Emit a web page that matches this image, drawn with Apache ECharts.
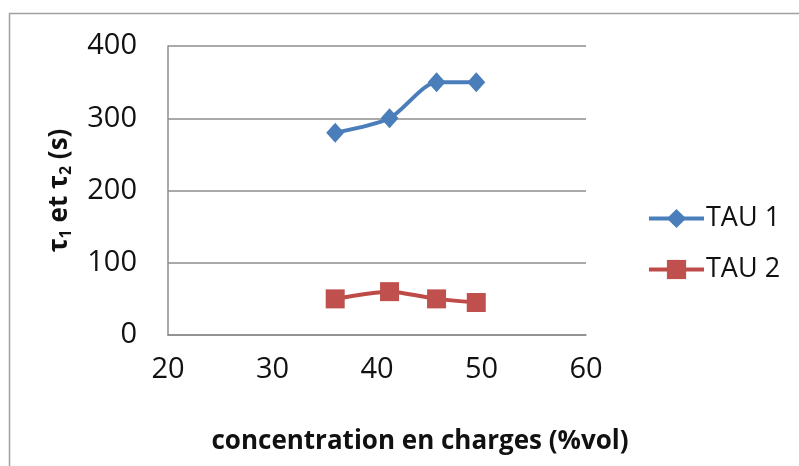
<!DOCTYPE html>
<html>
<head>
<meta charset="utf-8">
<script src="https://cdn.jsdelivr.net/npm/echarts@6/dist/echarts.min.js"></script>
<style>
  html, body { margin: 0; padding: 0; background: #fff; }
  #chart { width: 799px; height: 466px; }
</style>
</head>
<body>
<div id="chart"></div>
<script>
var concentration = [36, 41.2, 45.7, 49.5];
var tau1 = [280, 300, 350, 350];
var tau2 = [50, 60, 50, 45];

var fontName = 'Open Sans';
var chart = echarts.init(document.getElementById('chart'));

function pairs(xs, ys) {
  return xs.map(function (x, i) { return [x, ys[i]]; });
}

var option = {
  backgroundColor: '#fff',
  animation: false,
  textStyle: { fontFamily: fontName },
  graphic: [{
    type: 'rect',
    shape: { x: 9.5, y: 13.5, width: 820, height: 500 },
    style: { fill: 'none', stroke: '#a0a0a0', lineWidth: 1.5 }
  }],
  grid: { left: 168, right: 213, top: 46, bottom: 131 },
  legend: {
    orient: 'vertical',
    left: 642,
    top: 200,
    itemWidth: 55,
    itemHeight: 24,
    itemGap: 24,
    textStyle: { fontSize: 27, color: '#111', fontFamily: fontName, padding: [0, 0, 0, -3] },
    data: [
      { name: 'TAU 1', lineStyle: { width: 4 } },
      { name: 'TAU 2', lineStyle: { width: 4 } }
    ]
  },
  xAxis: {
    type: 'value',
    min: 20, max: 60, interval: 10,
    name: 'concentration en charges (%vol)',
    nameLocation: 'middle',
    nameGap: 94,
    nameTextStyle: { fontSize: 26, fontWeight: 'bold', color: '#111', padding: [0, 0, 0, 86] },
    axisLine: { show: true, lineStyle: { color: '#8c8c8c', width: 1.5 } },
    axisTick: { show: false },
    splitLine: { show: false },
    axisLabel: { fontSize: 29, color: '#111', margin: 20 }
  },
  yAxis: {
    type: 'value',
    min: 0, max: 400, interval: 100,
    name: '{a|τ}{s|1}{a| et τ}{s|2}{a| (s)}',
    nameLocation: 'middle',
    nameGap: 94,
    nameRotate: 90,
    nameTextStyle: {
      rich: {
        a: { fontSize: 26, fontWeight: 'bold', color: '#111', fontFamily: fontName },
        s: { fontSize: 16, fontWeight: 'bold', color: '#111', fontFamily: fontName, padding: [12, 0, 0, 0] }
      }
    },
    axisLine: { show: true, lineStyle: { color: '#8c8c8c', width: 1.5 } },
    axisTick: { show: false },
    splitLine: { show: true, lineStyle: { color: '#8c8c8c', width: 1.5 } },
    axisLabel: { fontSize: 29, color: '#111', margin: 31 }
  },
  series: [
    {
      name: 'TAU 1',
      type: 'line',
      smooth: 0.25,
      data: pairs(concentration, tau1),
      symbol: 'diamond',
      symbolSize: [18, 20],
      lineStyle: { color: '#4a7ebb', width: 4 },
      itemStyle: { color: '#4a7ebb' }
    },
    {
      name: 'TAU 2',
      type: 'line',
      smooth: 0.25,
      data: pairs(concentration, tau2),
      symbol: 'rect',
      symbolSize: 19,
      lineStyle: { color: '#be4b48', width: 4 },
      itemStyle: { color: '#c0504d' }
    }
  ]
};

chart.setOption(option);
</script>
</body>
</html>
